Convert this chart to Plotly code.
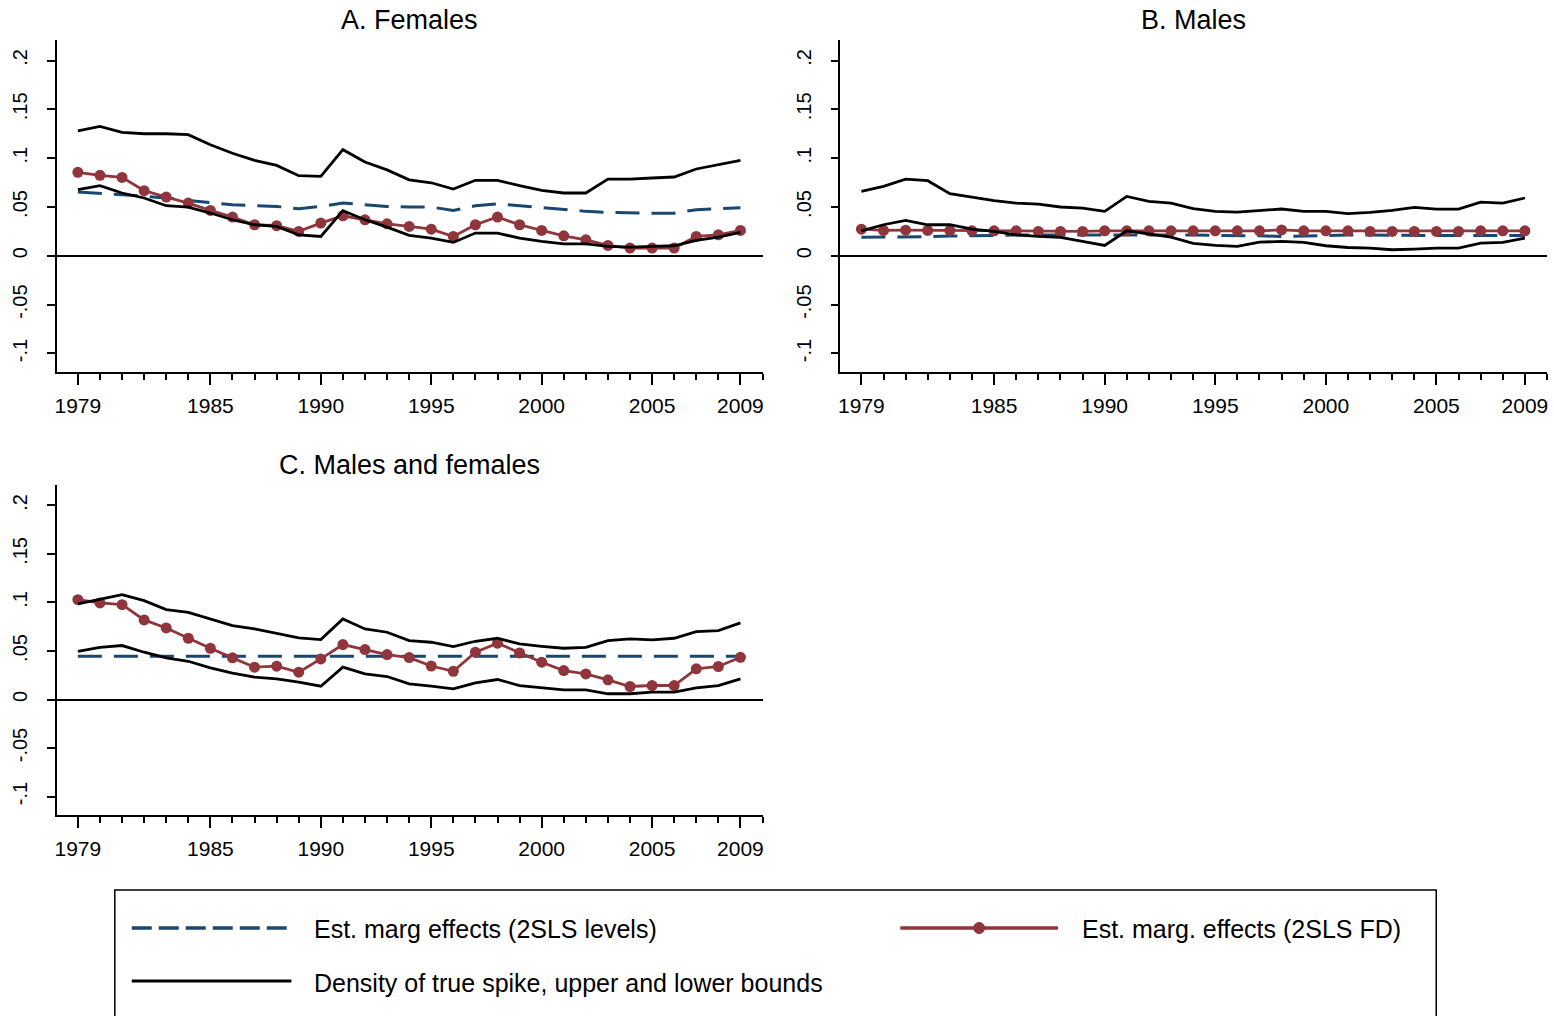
import plotly.graph_objects as go

W, H = 1554, 1016

years = list(range(1979, 2010))

# Panel A: Females
a_upper = [0.128, 0.1326, 0.1265, 0.125, 0.125, 0.124, 0.1138, 0.105, 0.0978, 0.0926, 0.082,
           0.0814, 0.1087, 0.096, 0.088, 0.0778, 0.0748, 0.0684, 0.0773, 0.0773, 0.0718, 0.067,
           0.0643, 0.0643, 0.0786, 0.0786, 0.0797, 0.0807, 0.0889, 0.0933, 0.0978]
a_lower = [0.0677, 0.0718, 0.0643, 0.0592, 0.0513, 0.0499, 0.0438, 0.0369, 0.0318, 0.0301, 0.0215,
           0.0198, 0.0462, 0.0369, 0.0294, 0.021, 0.018, 0.0137, 0.0233, 0.0233, 0.018, 0.0147,
           0.0123, 0.0123, 0.0096, 0.0089, 0.0096, 0.0103, 0.0157, 0.0191, 0.0239]
a_fd = [0.0855, 0.0824, 0.0803, 0.0667, 0.0602, 0.054, 0.0465, 0.0397, 0.0318, 0.0308, 0.025,
        0.0335, 0.041, 0.0369, 0.0328, 0.0301, 0.0273, 0.0198, 0.0318, 0.0397, 0.0318, 0.026,
        0.0205, 0.0164, 0.0106, 0.0079, 0.0079, 0.0079, 0.0198, 0.0215, 0.026]
a_lev = [0.0653, 0.0643, 0.0626, 0.0609, 0.0592, 0.0567, 0.0547, 0.0523, 0.0513, 0.0506, 0.0482,
         0.0506, 0.054, 0.0523, 0.0506, 0.0499, 0.0499, 0.0465, 0.0513, 0.0533, 0.0513, 0.0489,
         0.0472, 0.0455, 0.0444, 0.0437, 0.0437, 0.0437, 0.0472, 0.0482, 0.0492]

# Panel B: Males
b_upper = [0.066, 0.0711, 0.0786, 0.0769, 0.0636, 0.0602, 0.0564, 0.054, 0.053, 0.05, 0.0489,
           0.0455, 0.0608, 0.0557, 0.054, 0.0484, 0.0455, 0.0448, 0.0462, 0.0479, 0.0455, 0.0455,
           0.0431, 0.0444, 0.0465, 0.0496, 0.0479, 0.0479, 0.055, 0.054, 0.0592]
b_lower = [0.0256, 0.0318, 0.0362, 0.0318, 0.0318, 0.0273, 0.025, 0.0215, 0.0198, 0.0188, 0.0147,
           0.0106, 0.0256, 0.0222, 0.0191, 0.0127, 0.0106, 0.0096, 0.014, 0.0147, 0.0137, 0.0103,
           0.0085, 0.0079, 0.0062, 0.0068, 0.0079, 0.0079, 0.013, 0.0137, 0.018]
b_fd = [0.0273, 0.026, 0.0262, 0.026, 0.026, 0.0256, 0.0256, 0.0256, 0.025, 0.025, 0.025,
        0.0256, 0.0256, 0.0256, 0.0256, 0.0256, 0.0256, 0.0256, 0.0256, 0.0265, 0.0256, 0.0256,
        0.0256, 0.025, 0.025, 0.025, 0.025, 0.025, 0.0256, 0.0256, 0.0256]
b_lev = [0.019, 0.019, 0.0193, 0.0197, 0.0203, 0.0208, 0.021, 0.0212, 0.0213, 0.0214, 0.0215,
         0.0215, 0.0215, 0.0214, 0.0213, 0.0212, 0.0211, 0.021, 0.0205, 0.0198, 0.0205, 0.021,
         0.0212, 0.0212, 0.0208, 0.0207, 0.0207, 0.0207, 0.0207, 0.0207, 0.0207]

# Panel C: Males and females
c_upper = [0.0985, 0.1036, 0.108, 0.1019, 0.0926, 0.0898, 0.083, 0.0761, 0.0727, 0.0682, 0.0634,
           0.0617, 0.083, 0.0727, 0.0693, 0.0607, 0.059, 0.0545, 0.06, 0.0631, 0.0573, 0.0548,
           0.0528, 0.0538, 0.0607, 0.0624, 0.0614, 0.0631, 0.07, 0.071, 0.0789]
c_lower = [0.0497, 0.0538, 0.0556, 0.0487, 0.0429, 0.0394, 0.0326, 0.0271, 0.023, 0.0213, 0.0178,
           0.0137, 0.0333, 0.0264, 0.0237, 0.0161, 0.0137, 0.011, 0.0172, 0.0206, 0.0144, 0.012,
           0.01, 0.01, 0.0059, 0.0059, 0.0075, 0.0075, 0.012, 0.0144, 0.0213]
c_fd = [0.1029, 0.0995, 0.0977, 0.082, 0.0737, 0.0631, 0.0528, 0.0429, 0.0333, 0.0343, 0.0281,
        0.0418, 0.0566, 0.0514, 0.0463, 0.0432, 0.0345, 0.0291, 0.0487, 0.058, 0.048, 0.0384,
        0.0298, 0.0264, 0.0203, 0.0134, 0.0144, 0.0144, 0.0316, 0.034, 0.0435]
c_lev = [0.0446, 0.0446, 0.0446, 0.0446, 0.0446, 0.0446, 0.0446, 0.0446, 0.0446, 0.0446, 0.0446,
         0.0446, 0.0446, 0.0446, 0.0446, 0.0446, 0.0446, 0.0446, 0.0446, 0.0446, 0.0446, 0.0446,
         0.0446, 0.0446, 0.0446, 0.0446, 0.0446, 0.0446, 0.0446, 0.0446, 0.0446]

panel_titles = ["A. Females", "B. Males", "C. Males and females"]
x_tickvals = [1979, 1985, 1990, 1995, 2000, 2005, 2009]
x_ticktext = ["1979", "1985", "1990", "1995", "2000", "2005", "2009"]
y_tickvals = [-0.1, -0.05, 0, 0.05, 0.1, 0.15, 0.2]
y_ticktext = ["-.1", "-.05", "0", ".05", ".1", ".15", ".2"]
legend_labels = ["Est. marg effects (2SLS levels)", "Est. marg. effects (2SLS FD)",
                 "Density of true spike, upper and lower bounds"]

NAVY = "rgb(26,71,111)"
MAROON = "rgb(144,53,59)"
BLACK = "black"
FONT = "Liberation Sans, Arial, Helvetica, sans-serif"

panels = [
    (a_lev, a_fd, a_upper, a_lower),
    (b_lev, b_fd, b_upper, b_lower),
    (c_lev, c_fd, c_upper, c_lower),
]

def px_x(p):
    return p / W

def px_y(p):
    return 1 - p / H

# plot-area boxes in window pixels: (left, right, top, bottom)
boxes = [(55, 762, 40, 372), (840, 1548, 40, 372), (55, 762, 485, 815)]

fig = go.Figure()
for i, (lev, fd, up, lo) in enumerate(panels):
    ax = "" if i == 0 else str(i + 1)
    xref, yref = "x" + ax, "y" + ax
    fig.add_trace(go.Scatter(x=years, y=lev, mode="lines", xaxis=xref, yaxis=yref,
                             line=dict(color=NAVY, width=3, dash="24px,12px"), showlegend=False))
    fig.add_trace(go.Scatter(x=years, y=fd, mode="lines+markers", xaxis=xref, yaxis=yref,
                             line=dict(color=MAROON, width=2.8),
                             marker=dict(color=MAROON, size=11), showlegend=False))
    fig.add_trace(go.Scatter(x=years, y=up, mode="lines", xaxis=xref, yaxis=yref,
                             line=dict(color=BLACK, width=2.8), showlegend=False))
    fig.add_trace(go.Scatter(x=years, y=lo, mode="lines", xaxis=xref, yaxis=yref,
                             line=dict(color=BLACK, width=2.8), showlegend=False))

    l, r, t, b = boxes[i]
    fig.update_layout(**{
        "xaxis" + ax: dict(domain=[px_x(l), px_x(r)], anchor=yref, range=[1978.05, 2010],
                           tickmode="array", tickvals=x_tickvals, ticktext=x_ticktext,
                           ticks="outside", ticklen=11, tickwidth=1.5, tickcolor="black",
                           ticklabelstandoff=3,
                           minor=dict(tickmode="linear", tick0=1979, dtick=1, ticks="outside",
                                      ticklen=6, tickwidth=1.5, tickcolor="black"),
                           showline=True, linecolor="black", linewidth=1.5,
                           showgrid=False, zeroline=False,
                           tickfont=dict(family=FONT, size=21, color="black")),
        "yaxis" + ax: dict(domain=[px_y(b), px_y(t)], anchor=xref, range=[-0.119, 0.221],
                           tickmode="array", tickvals=y_tickvals, ticktext=y_ticktext,
                           tickangle=-90, ticks="outside", ticklen=8, tickwidth=1.5,
                           tickcolor="black", ticklabelstandoff=12,
                           showline=True, linecolor="black", linewidth=1.5,
                           showgrid=False, zeroline=True, zerolinecolor="black",
                           zerolinewidth=1.5,
                           tickfont=dict(family=FONT, size=20, color="black")),
    })
    fig.add_annotation(x=px_x((l + r) / 2), y=px_y(t - 20), xref="paper", yref="paper",
                       text=panel_titles[i], showarrow=False, xanchor="center",
                       yanchor="middle", font=dict(family=FONT, size=27, color="black"))

# Legend box (drawn manually to match layout)
fig.add_shape(type="rect", xref="paper", yref="paper", x0=px_x(113), x1=px_x(1437),
              y0=px_y(1040), y1=px_y(890), line=dict(color="black", width=1.5),
              fillcolor="rgba(0,0,0,0)")
fig.add_shape(type="line", xref="paper", yref="paper", x0=px_x(130), x1=px_x(290),
              y0=px_y(928), y1=px_y(928), line=dict(color=NAVY, width=3.5, dash="20px,7px"))
fig.add_shape(type="line", xref="paper", yref="paper", x0=px_x(900), x1=px_x(1058),
              y0=px_y(928), y1=px_y(928), line=dict(color=MAROON, width=3.5))
fig.add_shape(type="circle", xref="paper", yref="paper", x0=px_x(973.5), x1=px_x(984.5),
              y0=px_y(933.5), y1=px_y(922.5), line=dict(color=MAROON, width=1), fillcolor=MAROON)
fig.add_shape(type="line", xref="paper", yref="paper", x0=px_x(130), x1=px_x(290),
              y0=px_y(981), y1=px_y(981), line=dict(color=BLACK, width=3))
for txt, xp, yp in [(legend_labels[0], 311, 929), (legend_labels[1], 1080, 929),
                    (legend_labels[2], 311, 983)]:
    fig.add_annotation(x=px_x(xp), y=px_y(yp), xref="paper", yref="paper", text=txt,
                       showarrow=False, xanchor="left", yanchor="middle",
                       font=dict(family=FONT, size=25, color="black"))

fig.update_layout(width=W, height=H, margin=dict(l=0, r=0, t=0, b=0),
                  paper_bgcolor="white", plot_bgcolor="white", showlegend=False)

fig.write_html("out.html",
               config={"displayModeBar": False},
               post_script="document.body.style.margin='0px';"
                           "document.body.style.overflow='hidden';")
